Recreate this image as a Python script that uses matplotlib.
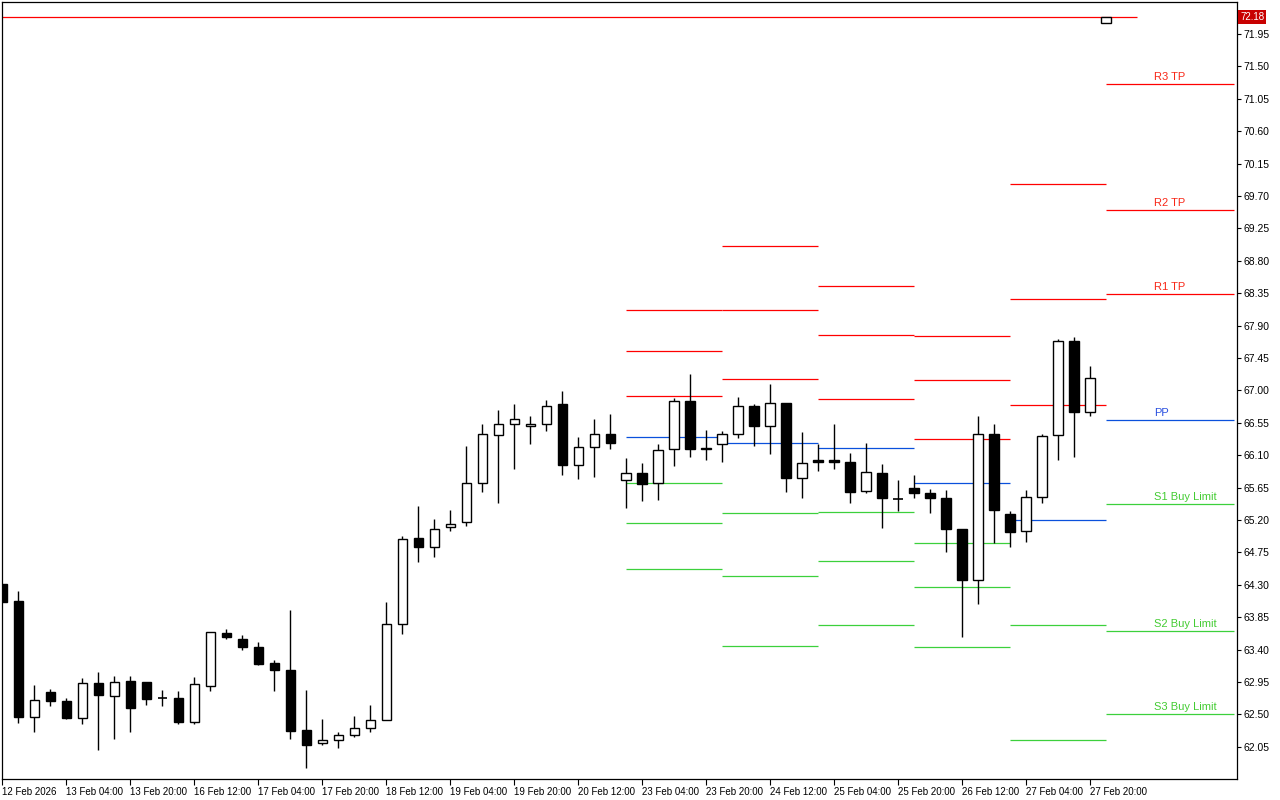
import numpy as np
import matplotlib.pyplot as plt
from matplotlib.patches import Rectangle

# H4 bars from 12 Feb 12:00 up to the Monday open
opens = [64.31, 64.07, 62.47, 62.81, 62.68, 62.45, 62.93, 62.76, 62.96, 62.95,
         62.73, 62.73, 62.39, 62.90, 63.63, 63.55, 63.44, 63.21, 63.12, 62.29,
         62.10, 62.14, 62.22, 62.31, 62.42, 63.75, 64.95, 64.82, 65.10, 65.17,
         65.71, 66.38, 66.53, 66.50, 66.53, 66.81, 65.97, 66.22, 66.40, 65.75,
         65.85, 65.71, 66.18, 66.85, 66.20, 66.25, 66.39, 66.78, 66.50, 66.82,
         65.79, 66.03, 66.03, 66.01, 65.60, 65.85, 65.49, 65.64, 65.58, 65.50,
         65.07, 64.36, 66.39, 65.28, 65.05, 65.52, 66.38, 67.68, 66.70, 72.10]
highs = [64.31, 64.21, 62.91, 62.85, 62.73, 63.01, 63.09, 63.04, 63.03, 62.95,
         62.84, 62.83, 63.02, 63.64, 63.69, 63.60, 63.51, 63.26, 63.95, 62.84,
         62.44, 62.26, 62.48, 62.63, 64.06, 64.98, 65.39, 65.21, 65.34, 66.23,
         66.53, 66.73, 66.81, 66.64, 66.87, 66.99, 66.35, 66.60, 66.67, 66.06,
         65.99, 66.26, 66.89, 67.23, 66.45, 66.43, 66.91, 66.81, 67.09, 66.82,
         66.42, 66.26, 66.53, 66.13, 66.27, 65.98, 65.76, 65.82, 65.63, 65.61,
         65.08, 66.64, 66.54, 65.33, 65.61, 66.39, 67.72, 67.74, 67.34, 72.18]
lows = [64.06, 62.38, 62.25, 62.61, 62.43, 62.37, 62.00, 62.16, 62.26, 62.63,
        62.62, 62.36, 62.37, 62.82, 63.55, 63.40, 63.18, 62.82, 62.16, 61.75,
        62.07, 62.04, 62.18, 62.25, 62.42, 63.62, 64.62, 64.69, 65.05, 65.11,
        65.59, 65.43, 65.91, 66.26, 66.44, 65.83, 65.77, 65.80, 66.19, 65.37,
        65.47, 65.48, 65.95, 66.08, 66.04, 66.01, 66.34, 66.23, 66.11, 65.59,
        65.51, 65.88, 65.91, 65.43, 65.57, 65.09, 65.32, 65.50, 65.30, 64.76,
        63.58, 64.04, 64.88, 64.82, 64.90, 65.43, 66.04, 66.08, 66.65, 72.10]
closes = [64.06, 62.47, 62.70, 62.68, 62.45, 62.93, 62.77, 62.95, 62.59, 62.72,
          62.73, 62.40, 62.92, 63.64, 63.57, 63.44, 63.20, 63.11, 62.27, 62.08,
          62.14, 62.22, 62.31, 62.42, 63.75, 64.93, 64.83, 65.08, 65.15, 65.71,
          66.39, 66.53, 66.60, 66.53, 66.79, 65.97, 66.21, 66.40, 66.27, 65.85,
          65.70, 66.17, 66.85, 66.19, 66.18, 66.39, 66.78, 66.50, 66.82, 65.79,
          65.99, 66.01, 66.00, 65.59, 65.86, 65.50, 65.49, 65.57, 65.50, 65.07,
          64.36, 66.39, 65.34, 65.04, 65.52, 66.36, 67.68, 66.70, 67.17, 72.18]

xlabels = ['12 Feb 2026', '13 Feb 04:00', '13 Feb 20:00', '16 Feb 12:00', '17 Feb 04:00',
           '17 Feb 20:00', '18 Feb 12:00', '19 Feb 04:00', '19 Feb 20:00', '20 Feb 12:00',
           '23 Feb 04:00', '23 Feb 20:00', '24 Feb 12:00', '25 Feb 04:00', '25 Feb 20:00',
           '26 Feb 12:00', '27 Feb 04:00', '27 Feb 20:00']

# daily pivot levels, one value per day block
block_start = [39, 45, 51, 57, 63, 69]
block_end = [45, 51, 57, 63, 69, 77]
r3 = [68.12, 69.01, 68.45, 67.76, 69.87, 71.26]
r2 = [67.55, 68.12, 67.77, 67.14, 68.27, 69.51]
r1 = [66.92, 67.16, 66.88, 66.33, 66.80, 68.34]
pp = [66.35, 66.27, 66.20, 65.71, 65.20, 66.59]
s1 = [65.71, 65.30, 65.31, 64.88, 63.74, 65.42]
s2 = [65.16, 64.42, 64.63, 64.27, 62.14, 63.66]
s3 = [64.52, 63.45, 63.74, 63.44, 60.67, 62.51]

last_price = 72.18

RED = '#ff0000'
BLUE = '#0a50dc'
GREEN = '#3cd03c'
AXFONT = 'Liberation Sans'

fig = plt.figure(figsize=(12.8, 8), dpi=100)
ax = fig.add_axes([2/1280, 21/800, 1235/1280, 777/800])

# candles
for k in range(len(opens)):
    o, h, l, c = opens[k], highs[k], lows[k], closes[k]
    ax.vlines(k, l, h, color='black', lw=1.0, zorder=2)
    if abs(c - o) < 0.005:
        ax.hlines(o, k - 0.31, k + 0.31, color='black', lw=1.2, zorder=3)
    else:
        fc = 'white' if c > o else 'black'
        ax.add_patch(Rectangle((k - 0.31, min(o, c)), 0.62, abs(c - o),
                               facecolor=fc, edgecolor='black', lw=1.0, zorder=3))

# pivot levels
levels = [(r3, RED), (r2, RED), (r1, RED), (pp, BLUE), (s1, GREEN), (s2, GREEN), (s3, GREEN)]
for vals, col in levels:
    ax.hlines(vals, block_start, block_end, color=col, lw=0.9, zorder=1)

names = ['R3 TP', 'R2 TP', 'R1 TP', 'PP', 'S1 Buy Limit', 'S2 Buy Limit', 'S3 Buy Limit']
label_cols = ['#f82818', '#f82818', '#f82818', '#2a50e0', '#44cc33', '#44cc33', '#44cc33']
for (vals, col), name, lc in zip(levels, names, label_cols):
    ax.text(72, vals[-1] + 0.025, name, color=lc, fontsize=8,
            family='Liberation Sans', ha='left', va='bottom')

# bid line and price tag
ax.hlines(last_price, -1, 70.9, color=RED, lw=0.9, zorder=1)
ax.text(1.0025, last_price, '%.2f' % last_price, transform=ax.get_yaxis_transform(),
        color='white', fontsize=7, family=AXFONT, ha='left', va='center',
        bbox=dict(boxstyle='square,pad=0.2', fc='#c80000', ec='none'))

ax.set_xlim(-0.03, 77.16)
ax.set_ylim(61.603, 72.394)

ax.yaxis.tick_right()
yt = np.arange(62.05, 72.0, 0.45)
ax.set_yticks(yt)
ax.set_yticklabels(['%.2f' % v for v in yt], family=AXFONT, fontsize=7.5)
ax.set_xticks(range(0, 69, 4))
ax.set_xticklabels(xlabels, ha='left', family=AXFONT, fontsize=7)
ax.tick_params(axis='y', direction='out', length=3, width=0.8, pad=1.5)
ax.tick_params(axis='x', direction='out', length=4, width=0.8, pad=1.5)
for sp in ax.spines.values():
    sp.set_linewidth(0.9)
    sp.set_color('black')

fig.savefig('out.png', dpi=100)
